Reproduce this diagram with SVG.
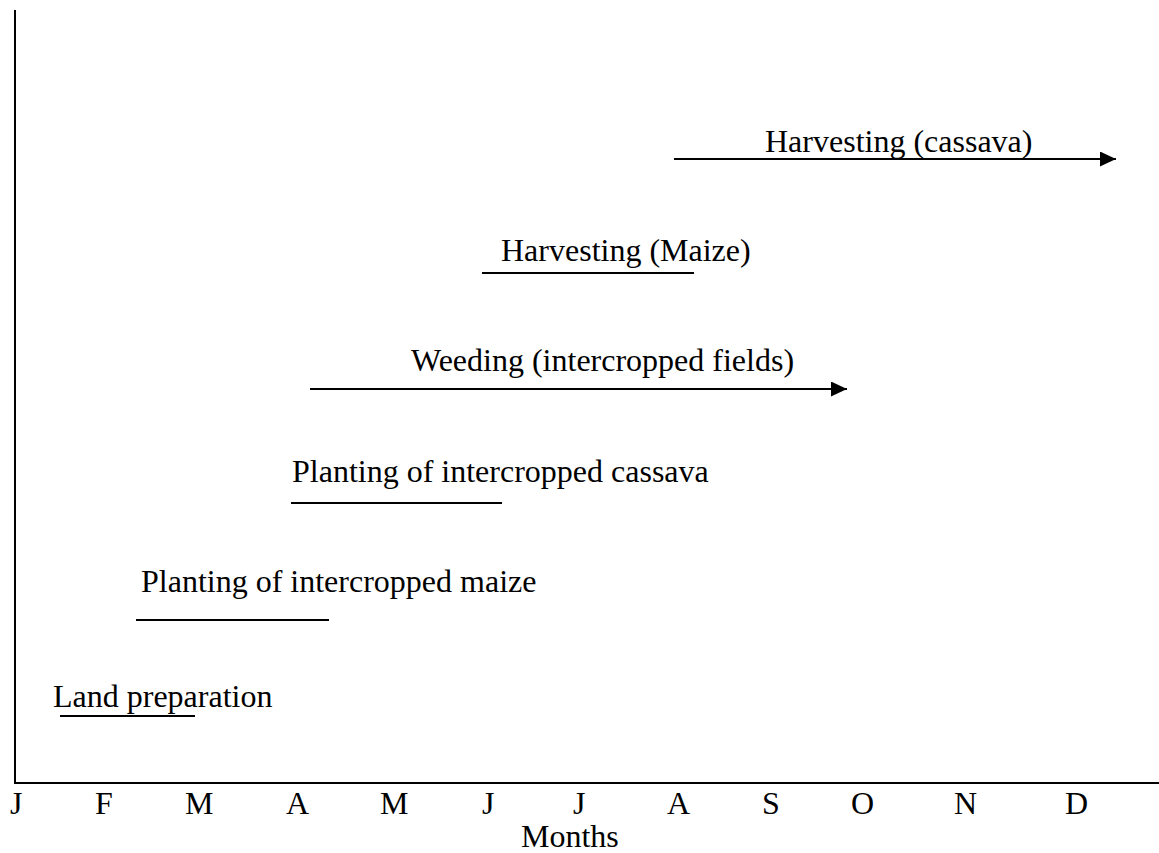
<svg xmlns="http://www.w3.org/2000/svg" width="1159" height="853" viewBox="0 0 1159 853">
<style>
text{font-family:"Liberation Serif","Times New Roman",serif;font-size:32px;fill:#000}
.ln{stroke:#000;stroke-width:2;fill:none}
</style>
<defs>
<marker id="ah" markerUnits="userSpaceOnUse" markerWidth="16" markerHeight="15" refX="16" refY="7.5" orient="auto">
<path d="M0,0 L16,7.5 L0,15 z" fill="#000"/>
</marker>
</defs>
<rect width="1159" height="853" fill="#fff"/>
<g id="axes">
<line class="ln" x1="15" y1="10" x2="15" y2="784"/>
<line class="ln" x1="14" y1="783" x2="1159" y2="783"/>
</g>
<g id="months">
<text x="10" y="814">J</text>
<text x="95" y="814">F</text>
<text x="185" y="814">M</text>
<text x="286" y="814">A</text>
<text x="380" y="814">M</text>
<text x="482" y="814">J</text>
<text x="573" y="814">J</text>
<text x="667" y="814">A</text>
<text x="762" y="814">S</text>
<text x="851" y="814">O</text>
<text x="954" y="814">N</text>
<text x="1065" y="814">D</text>
<text x="521" y="847">Months</text>
</g>
<g id="connectors">
<line class="ln" x1="60" y1="716" x2="195" y2="716"/>
<line class="ln" x1="136" y1="620" x2="329" y2="620"/>
<line class="ln" x1="291" y1="503" x2="502" y2="503"/>
<line class="ln" x1="310" y1="389" x2="847" y2="389" marker-end="url(#ah)"/>
<line class="ln" x1="482" y1="273" x2="694" y2="273"/>
<line class="ln" x1="674" y1="159" x2="1116" y2="159" marker-end="url(#ah)"/>
</g>
<g id="land-preparation"><text x="53" y="707">Land preparation</text></g>
<g id="planting-maize"><text x="141" y="592">Planting of intercropped maize</text></g>
<g id="planting-cassava"><text x="292" y="482">Planting of intercropped cassava</text></g>
<g id="weeding"><text x="411" y="371">Weeding (intercropped fields)</text></g>
<g id="harvesting-maize"><text x="501" y="261">Harvesting (Maize)</text></g>
<g id="harvesting-cassava"><text x="765" y="152">Harvesting (cassava)</text></g>
</svg>
